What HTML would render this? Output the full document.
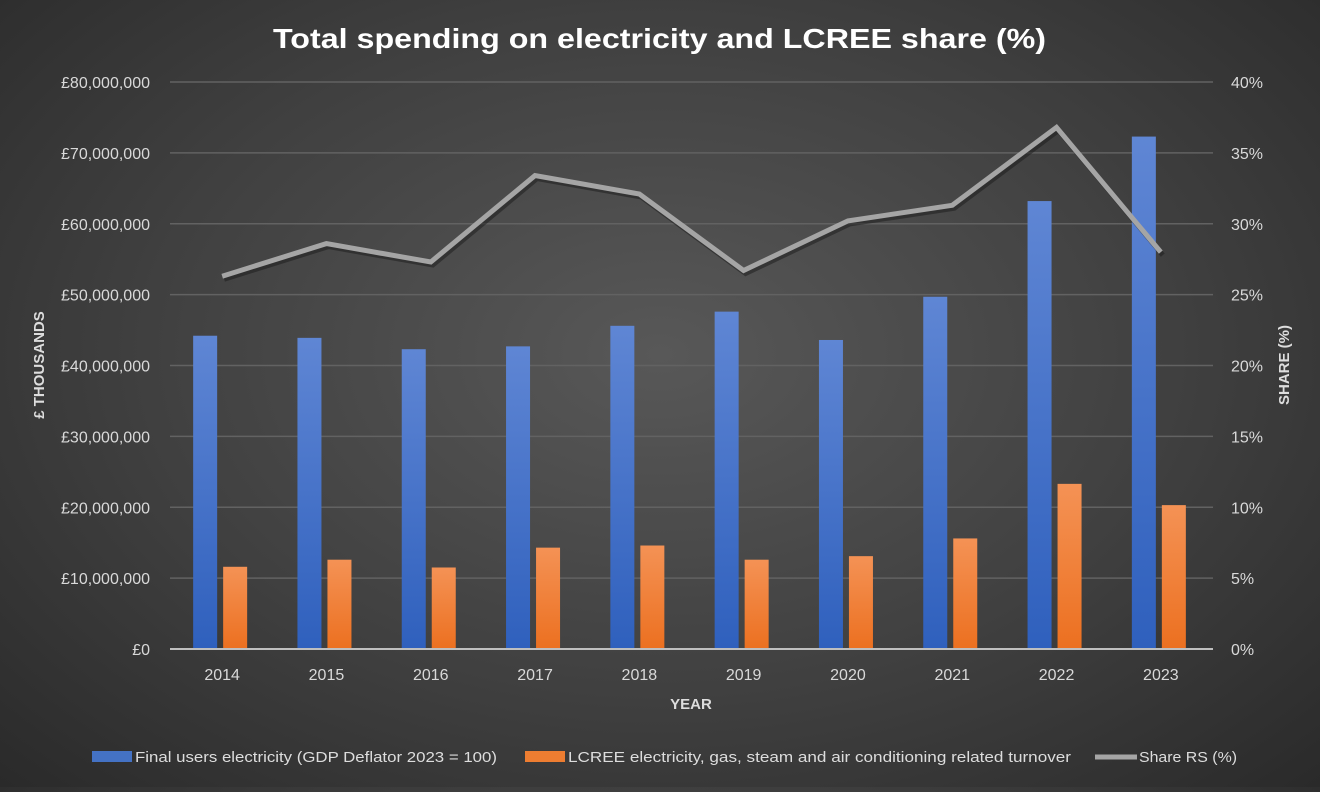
<!DOCTYPE html>
<html><head><meta charset="utf-8"><style>
html,body{margin:0;padding:0;}
body{width:1320px;height:787px;overflow:hidden;background:radial-gradient(ellipse at 50% 45%,#585858 0%,#404040 55%,#2a2a2a 100%);font-family:"Liberation Sans",sans-serif;}
</style></head><body>
<svg width="1320" height="787" id="chart" font-family="Liberation Sans, sans-serif">
<defs>
<linearGradient id="gb" x1="0" y1="0" x2="0" y2="1"><stop offset="0" stop-color="#5f86d4"/><stop offset="1" stop-color="#2f60bd"/></linearGradient>
<linearGradient id="go" x1="0" y1="0" x2="0" y2="1"><stop offset="0" stop-color="#f49255"/><stop offset="1" stop-color="#ec7020"/></linearGradient>
</defs>
<text x="273" y="48" textLength="773" lengthAdjust="spacingAndGlyphs" fill="#fff" font-size="28" font-weight="bold">Total spending on electricity and LCREE share (%)</text>
<g id="grid"></g><g id="bars"></g><g id="line"></g><g id="axes"></g>
<text transform="translate(44,365) rotate(-90)" text-anchor="middle" fill="#ddd" font-size="15" font-weight="bold">£ THOUSANDS</text>
<text transform="translate(1289,365) rotate(-90)" text-anchor="middle" fill="#ddd" font-size="15" font-weight="bold">SHARE (%)</text>
<text x="691" y="709" text-anchor="middle" fill="#ddd" font-size="15" font-weight="bold">YEAR</text>
<g font-size="15" fill="#ddd">
<g><rect x="92" y="751" width="40" height="11" fill="#4472c4"/><text x="135" y="762" textLength="362" lengthAdjust="spacingAndGlyphs">Final users electricity (GDP Deflator 2023 = 100)</text></g>
<g><rect x="525" y="751" width="40" height="11" fill="#ed7d31"/><text x="568" y="762" textLength="503" lengthAdjust="spacingAndGlyphs">LCREE electricity, gas, steam and air conditioning related turnover</text></g>
<g><line x1="1095" y1="757" x2="1137" y2="757" stroke="#a5a5a5" stroke-width="5"/><text x="1139" y="762" textLength="98" lengthAdjust="spacingAndGlyphs">Share RS (%)</text></g>
</g>
</svg>
<script>
const years=["2014","2015","2016","2017","2018","2019","2020","2021","2022","2023"];
const finalUsers=[44.2,43.9,42.3,42.7,45.6,47.6,43.6,49.7,63.2,72.3];
const lcree=[11.6,12.6,11.5,14.3,14.6,12.6,13.1,15.6,23.3,20.3];
const share=[26.3,28.6,27.3,33.4,32.1,26.7,30.2,31.3,36.8,28.0];
const leftTicks=[0,10,20,30,40,50,60,70,80];
const rightTicks=[0,5,10,15,20,25,30,35,40];

const NS="http://www.w3.org/2000/svg";
const X0=170,X1=1213,Y0=649,Y1=82;
const bw=(X1-X0)/years.length;
const yL=v=>Y0-(v/80)*(Y0-Y1);
const yR=v=>Y0-(v/40)*(Y0-Y1);
const xC=i=>X0+bw*(i+0.5);
function mk(tag,attrs,parent){const e=document.createElementNS(NS,tag);for(const k in attrs)e.setAttribute(k,attrs[k]);document.getElementById(parent).appendChild(e);return e;}
leftTicks.forEach((t,i)=>{
  const y=yL(t);
  if(t>0){const g=mk('line',{x1:X0,x2:X1,y1:y,y2:y,stroke:'#626262','stroke-width':1.5},'grid');
  
  }
  const lab=mk('text',{x:150,y:y+6,'text-anchor':'end',fill:'#d9d9d9','font-size':16},'axes');
  lab.textContent='£'+(t===0?'0':(t*1000000).toLocaleString('en-US'));
  
  
});
rightTicks.forEach(t=>{
  const lab=mk('text',{x:1231,y:yR(t)+6,fill:'#d9d9d9','font-size':16},'axes');
  lab.textContent=t+'%';
  
  
});
const ax=mk('line',{x1:X0,x2:X1,y1:Y0,y2:Y0,stroke:'#bfbfbf','stroke-width':2},'axes');


years.forEach((yr,i)=>{
  const c=xC(i);
  const b=mk('rect',{x:c-29,y:yL(finalUsers[i]),width:24,height:Y0-yL(finalUsers[i]),fill:'url(#gb)'},'bars');
  
  
  const o=mk('rect',{x:c+1,y:yL(lcree[i]),width:24,height:Y0-yL(lcree[i]),fill:'url(#go)'},'bars');
  
  
  const l=mk('text',{x:c,y:680,'text-anchor':'middle',fill:'#d9d9d9','font-size':16},'axes');
  l.textContent=yr;
  
  
});
const pts=share.map((v,i)=>xC(i).toFixed(1)+','+yR(v).toFixed(1)).join(' ');
const sh=mk('polyline',{points:pts,fill:'none',stroke:'#1a1a1a','stroke-opacity':0.5,'stroke-width':5,transform:'translate(2,3)'},'line');


const pl=mk('polyline',{points:pts,fill:'none',stroke:'#a5a5a5','stroke-width':5,'stroke-linejoin':'miter'},'line');


</script>
</body></html>
